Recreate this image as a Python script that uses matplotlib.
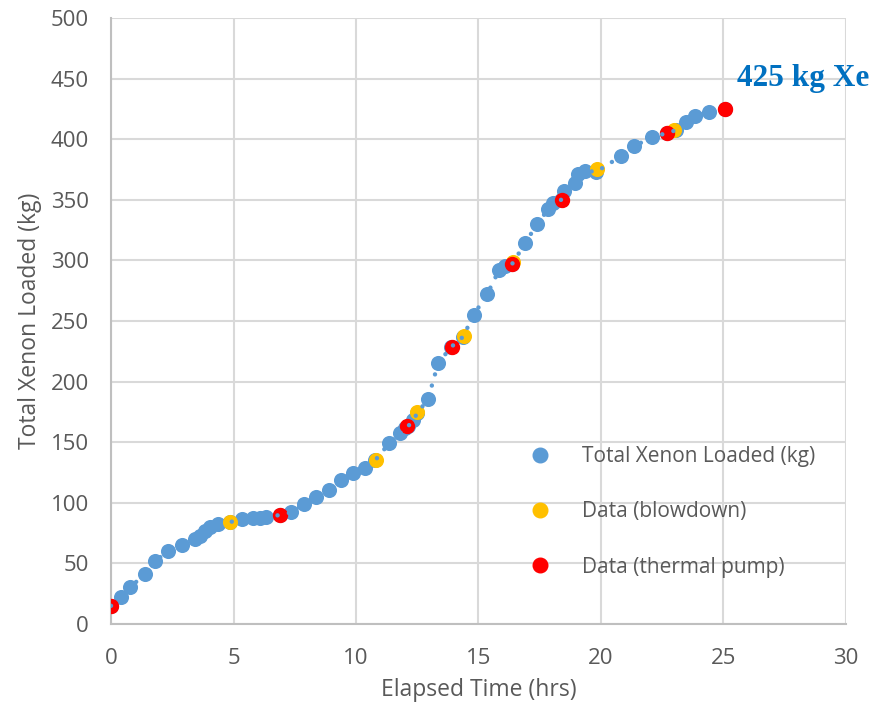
import matplotlib
matplotlib.use("Agg")
import matplotlib.pyplot as plt
from matplotlib.lines import Line2D

plt.rcParams['font.family'] = ['Open Sans', 'DejaVu Sans']

# Total Xenon Loaded (kg) series
total_time = [0.0, 0.41, 0.78, 1.39, 1.8, 2.33, 2.9, 3.43, 3.63, 3.84, 4.04, 4.37, 4.86,
              5.35, 5.8, 6.08, 6.33, 6.9, 7.35, 7.88, 8.37, 8.9, 9.39, 9.88, 10.37, 10.78,
              11.35, 11.8, 12.0, 12.12, 12.33, 12.5, 12.94, 13.35, 13.88, 14.37, 14.8, 15.35,
              15.84, 16.08, 16.37, 16.9, 17.39, 17.84, 18.04, 18.37, 18.5, 18.94, 19.06,
              19.35, 19.8, 20.82, 21.35, 22.08, 22.7, 23.06, 23.47, 23.84, 24.4, 25.06]
total_kg = [15, 22, 30.5, 41, 52, 60, 65, 70, 73, 77, 80, 82.5, 84,
            87, 87.5, 87.5, 88, 90, 92, 99, 105, 110.5, 119, 124.5, 129, 135,
            149, 157.5, 162, 163, 168, 174, 185.5, 215, 228.5, 237, 255, 272,
            292, 295, 297, 314, 330, 342, 347, 350, 357, 364, 371,
            374, 373, 386, 394, 402, 405, 407.5, 414, 419, 422.5, 425]

# Data (blowdown)
blow_time = [4.85, 10.8, 12.5, 14.4, 16.42, 19.85, 23.0]
blow_kg = [84, 135, 175, 237.5, 299, 375.5, 407.5]

# Data (thermal pump)
pump_time = [0.0, 6.9, 12.1, 13.9, 16.37, 18.4, 22.7, 25.05]
pump_kg = [15, 90, 163, 228.5, 297, 350, 405, 425]

blue = '#5B9BD5'
yellow = '#FFC000'
red = '#FF0000'
tick_col = '#595959'

fig = plt.figure(figsize=(8.87, 7.04), dpi=100)
ax = fig.add_axes([111/887, 80/704, 735/887, 606/704])

ax.scatter(total_time, total_kg, s=118, color=blue, zorder=3, linewidths=0)
ax.scatter(blow_time, blow_kg, s=118, color=yellow, zorder=4, linewidths=0)
ax.scatter(pump_time, pump_kg, s=122, color=red, zorder=5, linewidths=0)
ax.plot(total_time, total_kg, color=blue, lw=3.2, linestyle=(0, (0.01, 2.6)),
        dash_capstyle='round', zorder=6)

ax.set_xlim(0, 30)
ax.set_ylim(0, 500)
ax.set_xticks(range(0, 31, 5))
ax.set_yticks(range(0, 501, 50))
ax.grid(True, color='#D9D9D9', lw=1.5, zorder=0)
ax.set_axisbelow(True)
for s in ['top', 'right']:
    ax.spines[s].set_visible(False)
for s in ['left', 'bottom']:
    ax.spines[s].set_color('#BFBFBF')
    ax.spines[s].set_linewidth(1.5)
ax.tick_params(axis='both', length=0, labelsize=16, colors=tick_col)
ax.tick_params(axis='y', pad=16)
ax.tick_params(axis='x', pad=17)
ax.set_xlabel('Elapsed Time (hrs)', fontsize=16.5, color=tick_col)
ax.set_ylabel('Total Xenon Loaded (kg)', fontsize=16.5, color=tick_col)
ax.xaxis.label.set_va('center')
ax.yaxis.label.set_va('center')
ax.xaxis.set_label_coords(0.5, -0.109)
ax.yaxis.set_label_coords(-0.110, 0.5)

handles = [Line2D([], [], marker='o', ls='', color=blue, markersize=10.5),
           Line2D([], [], marker='o', ls='', color=yellow, markersize=10.5),
           Line2D([], [], marker='o', ls='', color=red, markersize=10.5)]
labels = ['Total Xenon Loaded (kg)', 'Data (blowdown)', 'Data (thermal pump)']
leg = ax.legend(handles, labels, loc='upper left', bbox_to_anchor=(0.544, 0.325),
                frameon=False, fontsize=15, labelspacing=1.65, handlelength=1.0,
                handletextpad=1.516, labelcolor=tick_col)

ax.text(25.55, 450, '425 kg Xe', fontsize=22.5, fontweight='bold', color='#0070C0',
        family=['Liberation Serif', 'DejaVu Serif'], ha='left', va='center')

fig.savefig('out.png', dpi=100)
